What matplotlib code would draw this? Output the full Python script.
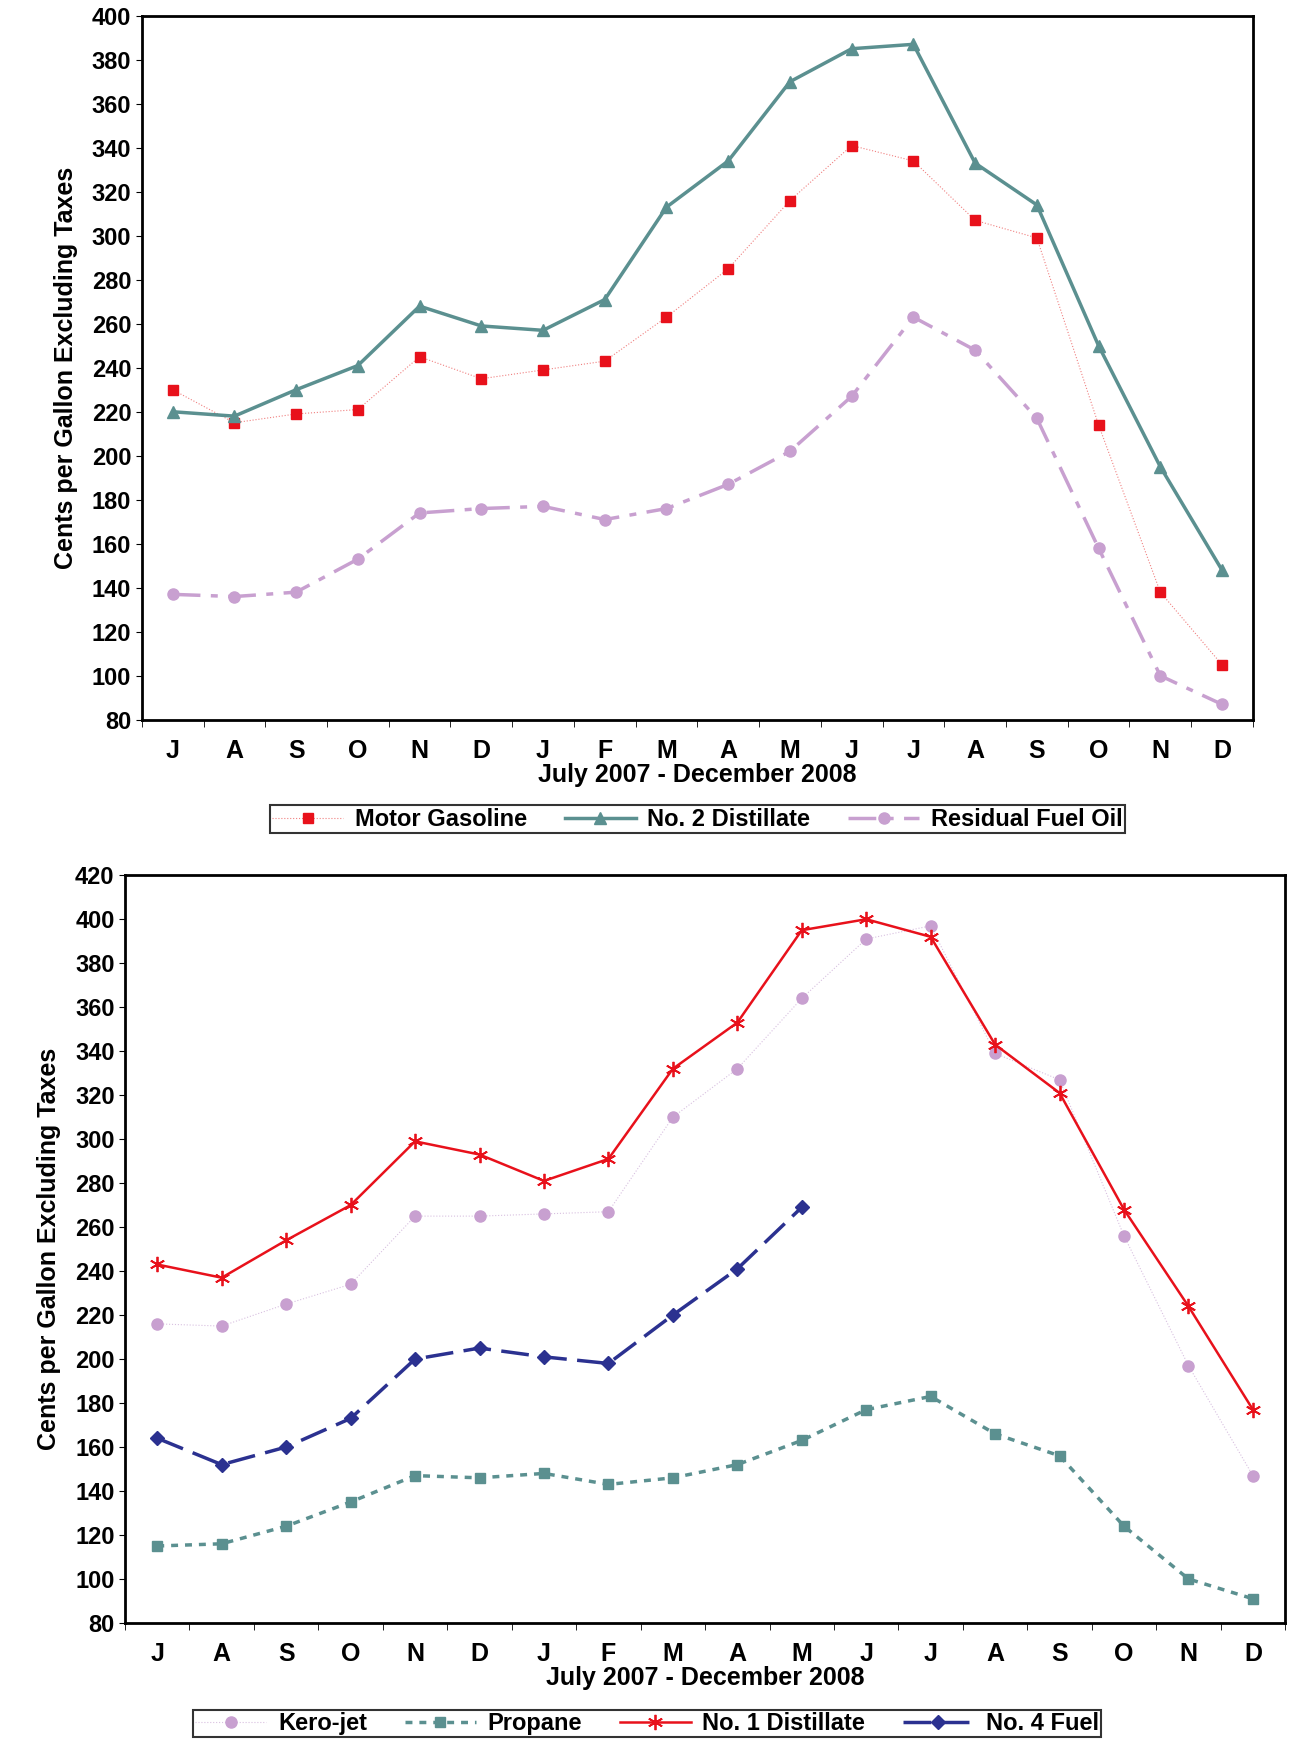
import matplotlib
matplotlib.use("Agg")
import matplotlib.pyplot as plt
import numpy as np

months = ["J", "A", "S", "O", "N", "D", "J", "F", "M", "A", "M", "J", "J", "A", "S", "O", "N", "D"]

gasoline = [230, 215, 219, 221, 245, 235, 239, 243, 263, 285, 316, 341, 334, 307, 299, 214, 138, 105]
distillate2 = [220, 218, 230, 241, 268, 259, 257, 271, 313, 334, 370, 385, 387, 333, 314, 250, 195, 148]
residual = [137, 136, 138, 153, 174, 176, 177, 171, 176, 187, 202, 227, 263, 248, 217, 158, 100, 87]

kerojet = [216, 215, 225, 234, 265, 265, 266, 267, 310, 332, 364, 391, 397, 339, 327, 256, 197, 147]
propane = [115, 116, 124, 135, 147, 146, 148, 143, 146, 152, 163, 177, 183, 166, 156, 124, 100, 91]
distillate1 = [243, 237, 254, 270, 299, 293, 281, 291, 332, 353, 395, 400, 392, 343, 321, 268, 224, 177]
fuel4 = [164, 152, 160, 173, 200, 205, 201, 198, 220, 241, 269]

plt.rcParams["font.family"] = ["Liberation Sans", "DejaVu Sans"]
plt.rcParams["font.weight"] = "bold"

fig = plt.figure(figsize=(12.89, 17.47), dpi=100)
ax1 = fig.add_axes([0.110, 0.588, 0.862, 0.403])
ax2 = fig.add_axes([0.097, 0.071, 0.900, 0.428])

x = np.arange(len(months))

ax1.plot(x, gasoline, color="#f08080", lw=0.8, ls=":", marker="s", ms=7,
         mfc="#e8111b", mec="#e8111b", label="Motor Gasoline")
ax1.plot(x, distillate2, color="#5b9090", lw=2.5, marker="^", ms=9,
         label="No. 2 Distillate")
ax1.plot(x, residual, color="#c8a0d0", lw=2.5, dashes=(8, 3, 2, 3), marker="o", ms=8,
         label="Residual Fuel Oil")
ax1.set_ylim(80, 400)
ax1.set_yticks(range(80, 401, 20))

x4 = np.arange(len(fuel4))
ax2.plot(x, kerojet, color="#d8c0e0", lw=0.8, ls=":", marker="o", ms=8,
         mfc="#c8a0d0", mec="#c8a0d0", label="Kero-jet")
ax2.plot(x, propane, color="#5b9090", lw=2.5, ls=(0, (2, 2)), marker="s", ms=7,
         label="Propane")
ax2.plot(x, distillate1, color="#e8111b", lw=1.8, marker=(6, 2, 0), ms=11, mew=1.3,
         label="No. 1 Distillate")
ax2.plot(x4, fuel4, color="#2b3190", lw=2.5, dashes=(8, 3), marker="D", ms=7,
         label="No. 4 Fuel")
ax2.set_ylim(80, 420)
ax2.set_yticks(range(80, 421, 20))

for ax in (ax1, ax2):
    ax.set_xlim(-0.5, len(months) - 0.5)
    ax.set_xticks(x)
    ax.set_xticklabels(months, fontsize=18, fontweight="bold")
    ax.set_xticks(np.arange(-0.5, len(months), 1), minor=True)
    ax.tick_params(axis="x", which="major", length=0, pad=14)
    ax.tick_params(axis="x", which="minor", length=5)
    ax.tick_params(axis="y", labelsize=17, length=4)
    for lab in ax.get_yticklabels():
        lab.set_fontweight("bold")
    for s in ax.spines.values():
        s.set_linewidth(2)
    ax.set_ylabel("Cents per Gallon Excluding Taxes", fontsize=18, fontweight="bold", labelpad=10)
    ax.set_xlabel("July 2007 - December 2008", fontsize=18, fontweight="bold", labelpad=0)

leg_kw = dict(ncol=4, frameon=True, fancybox=False, edgecolor="black",
              prop={"size": 17, "weight": "bold"}, handlelength=3,
              borderpad=0.1, columnspacing=1.6, handletextpad=0.5)
l1 = ax1.legend(loc="upper center", bbox_to_anchor=(0.5, -0.105), **leg_kw)
l2 = ax2.legend(loc="upper center", bbox_to_anchor=(0.45, -0.1), **leg_kw)
for l in (l1, l2):
    l.get_frame().set_linewidth(1.5)

fig.savefig("out.png", dpi=100)
